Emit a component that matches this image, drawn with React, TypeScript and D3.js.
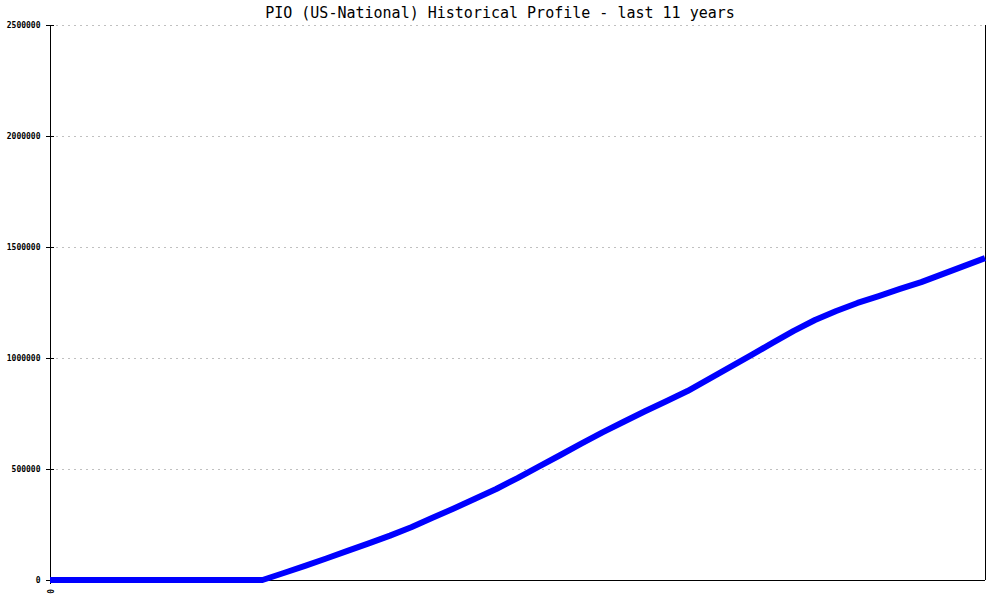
import React, { useEffect, useRef } from 'react'
import * as d3 from 'd3'

// quarterly points over the last 11 years (index based x axis)
const values = [
  0, 0, 0, 0, 0, 0, 0, 0, 0, 0, 0,
  31500, 64000, 97000, 131000, 165000, 200000, 238000, 280000, 322000,
  366000, 410000, 459000, 511000, 562000, 614000, 665000, 713000, 760000, 805000,
  851000, 905000, 959000, 1013000, 1068000, 1122000, 1171000, 1212000, 1248000,
  1279000, 1311000, 1342000, 1378000, 1414000, 1450000
]
const yTicks = [0, 500000, 1000000, 1500000, 2000000, 2500000]
const xTickLabels = ['0']
const title = 'PIO (US-National) Historical Profile - last 11 years'

const App = () => {
  const chart = useRef<SVGSVGElement>(null)
  const dimensions = { width: 1000, height: 600 }
  const margin = { top: 25, right: 15, bottom: 20, left: 50 }

  useEffect(() => {
    const svg = d3.select(chart.current)
    svg.selectAll('*').remove()

    const innerW = dimensions.width - margin.left - margin.right
    const innerH = dimensions.height - margin.top - margin.bottom

    const x = d3.scaleLinear()
                .domain([0, values.length - 1])
                .range([margin.left, margin.left + innerW])
    const y = d3.scaleLinear()
                .domain([0, 2500000])
                .range([margin.top + innerH, margin.top])

    svg.append('rect')
        .attr('width', dimensions.width)
        .attr('height', dimensions.height)
        .attr('fill', '#ffffff')

    svg.append('text')
        .attr('x', 500)
        .attr('y', 18)
        .attr('text-anchor', 'middle')
        .style('font-family', '"DejaVu Sans Mono", monospace')
        .style('font-size', '15px')
        .attr('fill', '#000')
        .text(title)

    // gridlines
    svg.append('g')
        .selectAll('line')
        .data(yTicks.filter(d => d > 0))
        .join('line')
        .attr('x1', margin.left)
        .attr('x2', margin.left + innerW)
        .attr('y1', d => Math.round(y(d)) + 0.5)
        .attr('y2', d => Math.round(y(d)) + 0.5)
        .attr('stroke', '#c0c0c0')
        .attr('stroke-dasharray', '2,4')
        .attr('shape-rendering', 'crispEdges')

    // y axis
    const yAxis = svg.append('g')
        .attr('transform', `translate(${margin.left + 0.5},0)`)
        .call(d3.axisLeft(y).tickValues(yTicks).tickFormat(d3.format('d')).tickSize(5).tickPadding(5))
    yAxis.select('.domain').remove()
    yAxis.selectAll('.tick line')
        .attr('x2', 3)
        .attr('x1', -5)
        .attr('stroke', '#000')
        .attr('shape-rendering', 'crispEdges')
    yAxis.selectAll('text')
        .style('font-family', '"DejaVu Sans Mono", monospace')
        .style('font-size', '8px')
        .style('font-weight', 'bold')
        .attr('x', -10)
        .attr('fill', '#000')

    // frame lines: left, bottom, right
    const frame = svg.append('g').attr('stroke', '#000').attr('shape-rendering', 'crispEdges')
    frame.append('line')
        .attr('x1', margin.left + 0.5).attr('x2', margin.left + 0.5)
        .attr('y1', margin.top).attr('y2', margin.top + innerH + 4)
    frame.append('line')
        .attr('x1', margin.left).attr('x2', margin.left + innerW)
        .attr('y1', margin.top + innerH + 0.5).attr('y2', margin.top + innerH + 0.5)
    frame.append('line')
        .attr('x1', margin.left + innerW + 0.5).attr('x2', margin.left + innerW + 0.5)
        .attr('y1', margin.top).attr('y2', margin.top + innerH)

    // x tick label (rotated)
    svg.append('g')
        .selectAll('text')
        .data(xTickLabels)
        .join('text')
        .attr('transform', (d, i) => `translate(${x(i) - 3},${margin.top + innerH + 9}) rotate(90)`)
        .attr('text-anchor', 'start')
        .style('font-family', '"DejaVu Sans Mono", monospace')
        .style('font-size', '8px')
        .style('font-weight', 'bold')
        .attr('fill', '#000')
        .text(d => d)

    const line = d3.line<number>()
                   .x((d, i) => x(i))
                   .y(d => y(d))

    svg.append('path')
        .datum(values)
        .attr('d', line)
        .attr('fill', 'none')
        .attr('stroke', '#0000ff')
        .attr('stroke-width', 6)
        .attr('stroke-linejoin', 'round')
  })

  return (
    <div id="chartArea" style={{ position: 'absolute', left: 0, top: 0 }}>
      <svg ref={chart} width={1000} height={600} style={{ display: 'block' }}></svg>
    </div>
  )
}

export default App
